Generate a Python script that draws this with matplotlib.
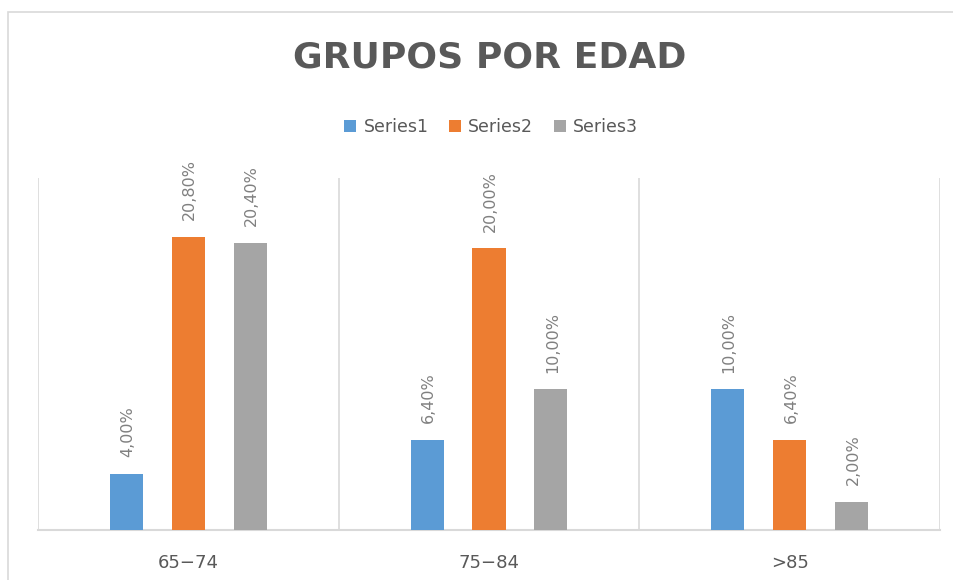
import numpy as np
import matplotlib
matplotlib.use("Agg")
import matplotlib.pyplot as plt
from matplotlib.patches import Rectangle

# datos
categorias = ["65\u221274", "75\u221284", ">85"]
series = ["Series1", "Series2", "Series3"]
serie1 = [4.0, 6.4, 10.0]
serie2 = [20.8, 20.0, 6.4]
serie3 = [20.4, 10.0, 2.0]
colores = ["#5B9BD5", "#ED7D31", "#A5A5A5"]

plt.rcParams["font.family"] = ["DejaVu Sans"]

fig = plt.figure(figsize=(9.54, 5.8), dpi=100)
ax = fig.add_axes([38 / 954, 1 - 530 / 580, 902 / 954, 352 / 580])

# borde del grafico
fig.patches.append(Rectangle((8 / 954, -0.1), 1.2, 1 - 12 / 580 + 0.1,
                             transform=fig.transFigure, fill=False,
                             edgecolor="#d9d9d9", linewidth=1.2))

x = np.arange(len(categorias))
ancho = 0.11
paso = 0.206
valores = [serie1, serie2, serie3]
for i, (nombre, vals) in enumerate(zip(series, valores)):
    pos = x + (i - 1) * paso
    barras = ax.bar(pos, vals, ancho, color=colores[i], label=nombre, zorder=3)
    for b, v in zip(barras, vals):
        ax.annotate(("%.2f%%" % v).replace(".", ","),
                    (b.get_x() + b.get_width() / 2, b.get_height()),
                    xytext=(1, 12), textcoords="offset points",
                    rotation=90, ha="center", va="bottom",
                    fontsize=11.5, color="#808080")

ax.set_xlim(-0.5, 2.5)
ax.set_ylim(0, 25)
ax.set_yticks([])
ax.set_xticks(x)
ax.set_xticklabels(categorias, fontsize=13, color="#595959")
ax.tick_params(axis="x", length=0, pad=17)

# lineas de separacion entre categorias
for xs in [-0.5, 0.5, 1.5, 2.5]:
    ax.axvline(xs, color="#d9d9d9", linewidth=1.2, zorder=1)
for s in ["top", "left", "right"]:
    ax.spines[s].set_visible(False)
ax.spines["bottom"].set_color("#d9d9d9")
ax.spines["bottom"].set_linewidth(1.5)

fig.text(0.513, 1 - 58 / 580, "GRUPOS POR EDAD", ha="center", va="center",
         fontsize=26, fontweight="bold", color="#595959")

fig.legend(loc="center", bbox_to_anchor=(0.515, 1 - 127 / 580), ncol=3,
           frameon=False, fontsize=12.5, handlelength=0.7, handleheight=0.7,
           handletextpad=0.4, columnspacing=1.2, labelcolor="#595959")

fig.savefig("out.png", dpi=100)
